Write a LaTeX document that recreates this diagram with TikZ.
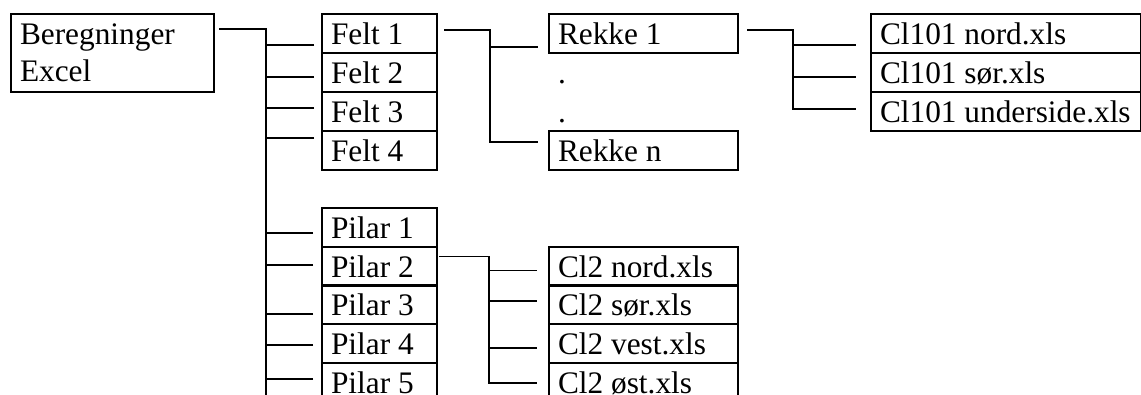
\documentclass[tikz,border=0pt]{standalone}
\usepackage{fontspec}
\setmainfont{Liberation Serif}
\usetikzlibrary{calc}
\begin{document}
\begin{tikzpicture}[x=0.75pt,y=-0.75pt,
  cell/.style={draw,line width=1.5pt,anchor=north west,inner xsep=6.75pt,inner ysep=0pt,
    text height=22.5pt,text depth=6.75pt,align=flush left,font=\fontsize{23.5}{27.75}\selectfont},
  free/.style={cell,draw=none},
  link/.style={line width=1.2pt}]
\useasboundingbox (0,0) rectangle (1141,394);
\clip (0,0) rectangle (1141,394);
% root
\node[cell,text width=138.75pt,text depth=36pt] (B) at (10,13) {Beregninger\\Excel};
% Felt column
\node[cell,text width=72.75pt] (f1) at (321,13) {Felt 1};
\node[cell,text width=72.75pt] (f2) at (321,52) {Felt 2};
\node[cell,text width=72.75pt] (f3) at (321,91) {Felt 3};
\node[cell,text width=72.75pt] (f4) at (321,130) {Felt 4};
% Pilar column
\node[cell,text width=72.75pt] (p1) at (321,207) {Pilar 1};
\node[cell,text width=72.75pt] (p2) at (321,246) {Pilar 2};
\node[cell,text width=72.75pt] (p3) at (321,284) {Pilar 3};
\node[cell,text width=72.75pt] (p4) at (321,323) {Pilar 4};
\node[cell,text width=72.75pt] (p5) at (321,362) {Pilar 5};
% Rekke column
\node[cell,text width=128.25pt] (r1) at (548,13) {Rekke 1};
\node[free,text width=128.25pt] (rd1) at (548,52) {.};
\node[free,text width=128.25pt] (rd2) at (548,91) {.};
\node[cell,text width=128.25pt] (rn) at (548,130) {Rekke n};
% Cl101 files
\node[cell,text width=189pt] (c1) at (870,13) {Cl101 nord.xls};
\node[cell,text width=189pt] (c2) at (870,52) {Cl101 sør.xls};
\node[cell,text width=189pt] (c3) at (870,91) {\mbox{Cl101 underside.xls}};
% Cl2 files
\node[cell,text width=128.25pt] (d1) at (548,246) {Cl2 nord.xls};
\node[cell,text width=128.25pt] (d2) at (548,284) {Cl2 sør.xls};
\node[cell,text width=128.25pt] (d3) at (548,323) {Cl2 vest.xls};
\node[cell,text width=128.25pt] (d4) at (548,362) {Cl2 øst.xls};
% main trunk
\coordinate (t0) at (266,29);
\coordinate (tb) at (266,396);
\draw[link] ($(B.north east)+(4,16)$) -- (t0) -- (tb);
\draw[link] ($(f1.west)+(-7,11.5)$) -- ($(f1.west -| t0)+(0,11.5)$);
\draw[link] ($(f2.west)+(-7,4.5)$) -- ($(f2.west -| t0)+(0,4.5)$);
\draw[link] ($(f3.west)+(-7,-3.5)$) -- ($(f3.west -| t0)+(0,-3.5)$);
\draw[link] ($(f4.west)+(-7,-12.5)$) -- ($(f4.west -| t0)+(0,-12.5)$);
\draw[link] ($(p1.west)+(-8,5.5)$) -- ($(p1.west -| t0)+(0,5.5)$);
\draw[link] ($(p2.west)+(-8,-1.5)$) -- ($(p2.west -| t0)+(0,-1.5)$);
\draw[link] ($(p3.west)+(-8,9.5)$) -- ($(p3.west -| t0)+(0,9.5)$);
\draw[link] ($(p4.west)+(-8,1.5)$) -- ($(p4.west -| t0)+(0,1.5)$);
\draw[link] ($(p5.west)+(-8,-3.5)$) -- ($(p5.west -| t0)+(0,-3.5)$);
% Felt 1 -> Rekke
\draw[link] ($(f1.east)+(6,-3.5)$) -| ($(rn.west)+(-58,-8.5)$) -- ($(rn.west)+(-10,-8.5)$);
\draw[link] ($(r1.west)+(-58,13.5)$) -- ($(r1.west)+(-10,13.5)$);
% Rekke 1 -> Cl101
\draw[link] ($(r1.east)+(8,-3.5)$) -| ($(c3.west)+(-77,-2.5)$) -- ($(c3.west)+(-14,-2.5)$);
\draw[link] ($(c1.west)+(-77,11.5)$) -- ($(c1.west)+(-14,11.5)$);
\draw[link] ($(c2.west)+(-77,4.5)$) -- ($(c2.west)+(-14,4.5)$);
% Pilar 2 -> Cl2
\draw[link] ($(p2.east)+(1,-10)$) -| ($(d4.west)+(-59,0.5)$) -- ($(d4.west)+(-11,0.5)$);
\draw[link] ($(d1.west)+(-59,4)$) -- ($(d1.west)+(-11,4)$);
\draw[link] ($(d2.west)+(-59,-3.5)$) -- ($(d2.west)+(-11,-3.5)$);
\draw[link] ($(d3.west)+(-59,4.5)$) -- ($(d3.west)+(-11,4.5)$);
\end{tikzpicture}
\end{document}
